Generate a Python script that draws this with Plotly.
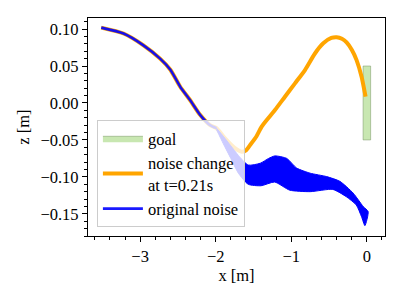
import plotly.graph_objects as go

# Shared initial path and orange ("noise change") trajectory
orange_x = [-3.515, -3.22, -2.956, -2.736, -2.60, -2.47, -2.34, -2.207, -2.075, -1.99,
            -1.90, -1.80, -1.72, -1.656, -1.60, -1.546, -1.46, -1.392, -1.30, -1.216,
            -1.084, -0.951, -0.819, -0.687, -0.577, -0.47, -0.40, -0.33, -0.268, -0.2,
            -0.136, -0.07, -0.017]
orange_z = [0.102, 0.094, 0.078, 0.060, 0.045, 0.022, 0.004, -0.016, -0.030, -0.034,
            -0.045, -0.056, -0.063, -0.066, -0.064, -0.057, -0.045, -0.032, -0.020, -0.0095,
            0.0085, 0.0266, 0.0446, 0.067, 0.0807, 0.088, 0.089, 0.087, 0.082, 0.072,
            0.058, 0.0356, 0.0085]

# Blue common segment (before noise change)
blue_x = [-3.515, -3.22, -2.956, -2.736, -2.60, -2.47, -2.34, -2.207, -2.075, -1.99]
blue_z = [0.102, 0.094, 0.078, 0.060, 0.045, 0.022, 0.004, -0.016, -0.030, -0.034]

# Blue band of original-noise trajectories: upper and lower envelopes
band_up_x = [-1.99, -1.9, -1.8, -1.7, -1.57, -1.41, -1.3, -1.216, -1.06, -0.93, -0.75,
             -0.533, -0.357, -0.181, -0.049, 0.017]
band_up_z = [-0.034, -0.045, -0.058, -0.071, -0.084, -0.0815, -0.075, -0.0716, -0.075,
             -0.088, -0.095, -0.0996, -0.106, -0.122, -0.140, -0.147]
band_lo_x = [-1.99, -1.9, -1.8, -1.7, -1.57, -1.40, -1.22, -1.02, -0.75, -0.45, -0.27,
             -0.14, -0.07, -0.026]
band_lo_z = [-0.036, -0.055, -0.075, -0.095, -0.110, -0.112, -0.107, -0.118, -0.120,
             -0.117, -0.127, -0.138, -0.154, -0.166]

# Goal region
goal_x = [-0.05, 0.05, 0.05, -0.05, -0.05]
goal_z = [-0.05, -0.05, 0.05, 0.05, -0.05]

FONT = "Liberation Serif, Times New Roman, Times, serif"
FS = 16.5

fig = go.Figure()
fig.add_trace(go.Scatter(x=goal_x, y=goal_z, mode="lines", fill="toself",
                         fillcolor="rgba(145,208,100,0.5)",
                         line=dict(color="rgba(120,150,100,0.5)", width=1),
                         name="goal"))
fig.add_trace(go.Scatter(x=orange_x, y=orange_z, mode="lines",
                         line=dict(color="#ffa500", width=4, shape="spline", smoothing=0.6),
                         name="noise change<br>at t=0.21s"))
band_x = band_up_x + band_lo_x[::-1]
band_z = band_up_z + band_lo_z[::-1]
fig.add_trace(go.Scatter(x=band_x, y=band_z, mode="lines", fill="toself",
                         fillcolor="#0000ff", line=dict(color="#0000ff", width=1, shape="spline", smoothing=0.6),
                         showlegend=False, hoverinfo="skip"))
fig.add_trace(go.Scatter(x=blue_x, y=blue_z, mode="lines",
                         line=dict(color="rgba(0,0,255,0.9)", width=2.6, shape="spline", smoothing=0.6),
                         name="original noise"))

axis_common = dict(showline=True, linecolor="black", linewidth=1.2, mirror=True,
                   ticks="outside", ticklen=5, tickwidth=1, tickcolor="black",
                   showgrid=False, zeroline=False,
                   tickfont=dict(family=FONT, size=FS, color="black"))
fig.update_xaxes(range=[-3.69, 0.24], tick0=0, dtick=1, tickformat="d",
                 title=dict(text="x [m]", font=dict(family=FONT, size=FS, color="black"), standoff=4),
                 minor=dict(tick0=0, dtick=0.2, ticks="outside", ticklen=3, tickcolor="black"),
                 **axis_common)
fig.update_yaxes(range=[-0.18, 0.115], tick0=0, dtick=0.05, tickformat=".2f",
                 title=dict(text="z [m]", font=dict(family=FONT, size=FS, color="black"), standoff=6),
                 minor=dict(tick0=0, dtick=0.01, ticks="outside", ticklen=3, tickcolor="black"),
                 **axis_common)
fig.update_layout(width=393, height=293, autosize=False,
                  margin=dict(l=80, r=16, t=10, b=65),
                  plot_bgcolor="white", paper_bgcolor="white",
                  font=dict(family=FONT, size=FS, color="black"),
                  legend=dict(x=0.03, y=0.041, xanchor="left", yanchor="bottom",
                              bgcolor="rgba(255,255,255,0.8)", bordercolor="#cccccc",
                              borderwidth=1, font=dict(family=FONT, size=FS),
                              tracegroupgap=0, itemwidth=40))
fig.write_html("out.html")
